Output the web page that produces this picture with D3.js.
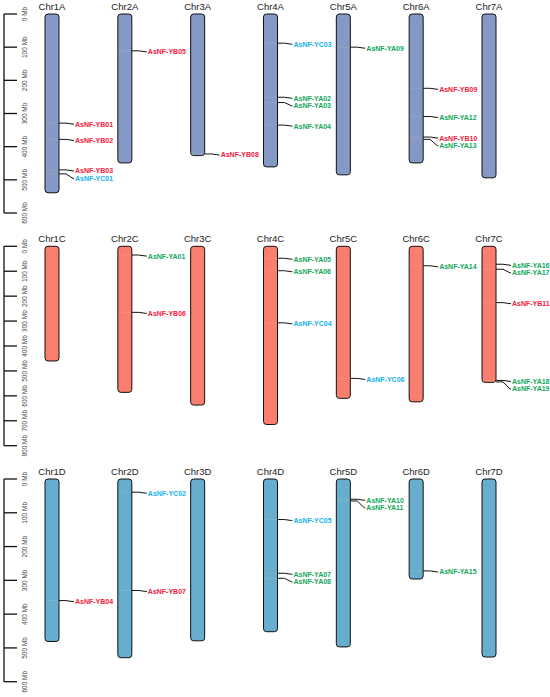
<!DOCTYPE html>
<html>
<head>
<meta charset="utf-8">
<script src="https://cdn.jsdelivr.net/npm/d3@7"></script>
<style>
  body { margin: 0; background: #fff; }
  svg { font-family: "Liberation Sans", Arial, sans-serif; }
</style>
</head>
<body>
<div id="chart"></div>
<script>
// chromosome lengths (Mb) for the three sub-genomes
const chrNames = ["Chr1", "Chr2", "Chr3", "Chr4", "Chr5", "Chr6", "Chr7"];
const lengthsA = [539, 449, 427, 461, 485, 449, 494];
const lengthsC = [460, 586, 637, 715, 610, 624, 546];
const lengthsD = [481, 529, 479, 452, 497, 296, 527];

// gene positions: [name, chromosome index, position in Mb]
const genesA = [
  ["AsNF-YB01", 0, 329], ["AsNF-YB02", 0, 378], ["AsNF-YB03", 0, 470], ["AsNF-YC01", 0, 482],
  ["AsNF-YB05", 1, 111],
  ["AsNF-YB08", 2, 422],
  ["AsNF-YC03", 3, 88], ["AsNF-YA02", 3, 251], ["AsNF-YA03", 3, 267], ["AsNF-YA04", 3, 335],
  ["AsNF-YA09", 4, 100],
  ["AsNF-YB09", 5, 224], ["AsNF-YA12", 5, 309], ["AsNF-YB10", 5, 371], ["AsNF-YA13", 5, 378]
];
const genesC = [
  ["AsNF-YA01", 1, 35], ["AsNF-YB06", 1, 265],
  ["AsNF-YA05", 3, 48], ["AsNF-YA06", 3, 98], ["AsNF-YC04", 3, 307],
  ["AsNF-YC06", 4, 530],
  ["AsNF-YA14", 5, 78],
  ["AsNF-YA16", 6, 72], ["AsNF-YA17", 6, 92], ["AsNF-YB11", 6, 226], ["AsNF-YA18", 6, 538], ["AsNF-YA19", 6, 544]
];
const genesD = [
  ["AsNF-YB04", 0, 360],
  ["AsNF-YC02", 1, 39], ["AsNF-YB07", 1, 330],
  ["AsNF-YC05", 3, 120], ["AsNF-YA07", 3, 279], ["AsNF-YA08", 3, 294],
  ["AsNF-YA10", 4, 60], ["AsNF-YA11", 4, 65],
  ["AsNF-YA15", 5, 272]
];

const ticksA = d3.range(0, 601, 100);
const ticksC = d3.range(0, 801, 100);
const ticksD = d3.range(0, 601, 100);

const width = 550, height = 697;
const svg = d3.select("#chart").append("svg")
  .attr("width", width).attr("height", height);

const x = d3.scalePoint().domain(d3.range(7)).range([52, 489]);
const chrW = 14;

const typeColor = { A: "#13a85b", B: "#f2203e", C: "#16b1ef" };

const panels = [
  { suffix: "A", lengths: lengthsA, genes: genesA, ticks: ticksA, fill: "#8599c6", y0: 14, y1: 213 },
  { suffix: "C", lengths: lengthsC, genes: genesC, ticks: ticksC, fill: "#fa7e6f", y0: 246.3, y1: 445.7 },
  { suffix: "D", lengths: lengthsD, genes: genesD, ticks: ticksD, fill: "#67adcd", y0: 479, y1: 681.7 }
];

panels.forEach(p => {
  const maxT = d3.max(p.ticks);
  const y = d3.scaleLinear().domain([0, maxT]).range([p.y0, p.y1]);
  const g = svg.append("g");

  // scale bar on the left
  g.append("line")
    .attr("x1", 4).attr("x2", 4)
    .attr("y1", y(0)).attr("y2", y(maxT))
    .attr("stroke", "#111").attr("stroke-width", 1.3);
  g.selectAll(".tick").data(p.ticks).enter().append("line")
    .attr("x1", 4).attr("x2", 17)
    .attr("y1", d => y(d)).attr("y2", d => y(d))
    .attr("stroke", "#111").attr("stroke-width", 1.3);
  g.selectAll(".tlab").data(p.ticks).enter().append("text")
    .attr("transform", d => `translate(24,${y(d)}) rotate(-90)`)
    .attr("text-anchor", "middle")
    .attr("dominant-baseline", "central")
    .attr("font-size", 6.5)
    .attr("fill", "#444")
    .text(d => d + " Mb");

  // chromosomes
  g.selectAll(".chr").data(p.lengths).enter().append("rect")
    .attr("x", (d, i) => x(i) - chrW / 2)
    .attr("y", y(0))
    .attr("width", chrW)
    .attr("height", d => y(d) - y(0))
    .attr("rx", 3)
    .attr("fill", p.fill)
    .attr("stroke", "#111")
    .attr("stroke-width", 1);

  g.selectAll(".clab").data(p.lengths).enter().append("text")
    .attr("x", (d, i) => x(i))
    .attr("y", y(0) - 7.5)
    .attr("text-anchor", "middle")
    .attr("dominant-baseline", "central")
    .attr("font-size", 9.5)
    .attr("fill", "#222")
    .text((d, i) => chrNames[i] + p.suffix);

  // spread labels so they do not overlap
  const placed = [];
  d3.range(7).forEach(ci => {
    const list = p.genes.filter(d => d[1] === ci).sort((a, b) => a[2] - b[2]);
    let prev = -Infinity;
    list.forEach(d => {
      const gy = y(d[2]);
      const ly = Math.max(gy + 1, prev + 7.6);
      prev = ly;
      placed.push({ name: d[0], ci, gy, ly });
    });
  });

  // faint marks on the chromosome body
  g.selectAll(".mark").data(placed).enter().append("line")
    .attr("x1", d => x(d.ci) - chrW / 2 + 1).attr("x2", d => x(d.ci) + chrW / 2 - 1)
    .attr("y1", d => d.gy).attr("y2", d => d.gy)
    .attr("stroke", "#e8e8a0").attr("stroke-opacity", 0.25).attr("stroke-width", 0.6);

  g.selectAll(".conn").data(placed).enter().append("path")
    .attr("d", d => {
      const r = x(d.ci) + chrW / 2;
      return `M${r},${d.gy}L${r + 7},${d.gy}L${r + 14},${d.ly}L${r + 15},${d.ly}`;
    })
    .attr("fill", "none").attr("stroke", "#111").attr("stroke-width", 1);

  g.selectAll(".glab").data(placed).enter().append("text")
    .attr("x", d => x(d.ci) + chrW / 2 + 16)
    .attr("y", d => d.ly)
    .attr("dominant-baseline", "central")
    .attr("font-size", 7)
    .attr("font-weight", "bold")
    .attr("fill", d => typeColor[d.name.charAt(6)])
    .text(d => d.name);
});
</script>
</body>
</html>
